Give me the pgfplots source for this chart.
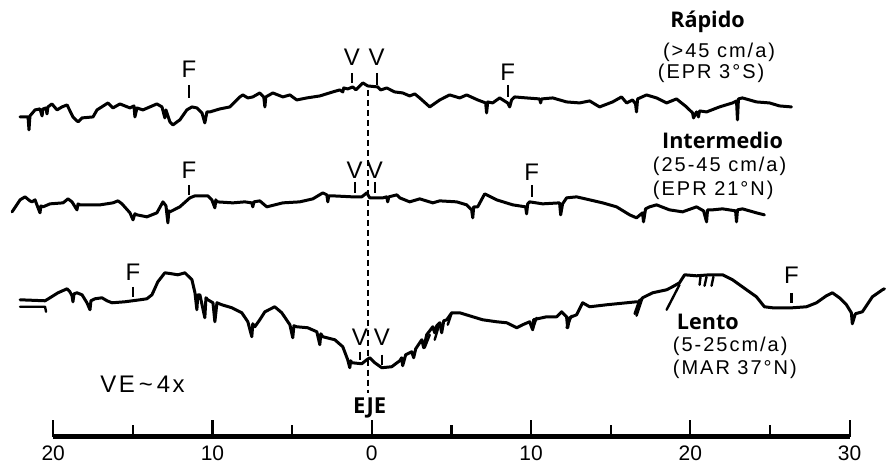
\documentclass[border=0pt]{standalone}
\usepackage{fontspec}
\setmainfont{Liberation Sans}
\newfontfamily\titlefont{Open Sans}
\newfontfamily\lblfont[LetterSpace=10]{Liberation Sans}
\usepackage{pgfplots}
\pgfplotsset{compat=1.18}
\tikzset{
  prof/.style={black, line width=1.5pt, line join=round, line cap=round, mark=none},
  lbl/.style={font=\fontsize{12}{13}\selectfont, inner sep=0pt},
  txt/.style={font=\lblfont\fontsize{10}{12}\selectfont, anchor=west, inner sep=0pt},
  tit/.style={font=\titlefont\bfseries\fontsize{10.8}{12}\selectfont, inner sep=0pt},
}

% distancias en km (20 ... 0 ... 30), relieve en unidades relativas (VE ~ 4x)
\pgfplotstableread{
x y
-22.08 320
-21.58 320
-21.52 307
-21.46 321
-21.14 327
-20.83 328
-20.70 321
-20.64 328
-20.45 329
-20.39 323
-20.33 330
-20.08 333
-19.76 327
-19.45 330
-19.13 332
-18.76 320
-18.44 315
-18.19 319
-17.50 320
-17.25 327
-16.56 334
-16.25 329
-15.81 333
-15.18 329
-14.93 331
-14.87 320
-14.74 329
-14.37 327
-13.49 333
-13.17 330
-12.99 319
-12.92 327
-12.67 315
-12.48 312
-12.23 315
-12.05 317
-11.61 327
-11.29 330
-10.98 329
-10.66 324
-10.48 314
-10.35 325
-10.16 325
-9.54 328
-8.91 330
-8.28 340
-8.09 342
-7.78 339
-7.47 340
-7.03 344
-6.78 340
-6.71 330
-6.65 340
-6.21 344
-5.58 340
-5.14 342
-4.71 337
-4.08 339
-3.26 341
-2.45 345
-2.01 347
-1.82 345
-1.76 349
-1.51 348
-1.19 350
-1.00 347
-0.56 354
-0.25 351
0.38 350
0.56 347
0.94 349
1.44 345
1.94 344
2.38 341
2.70 343
3.01 339
3.64 330
4.27 337
4.89 342
5.52 339
5.96 342
6.65 337
7.15 334
7.21 324
7.28 335
7.59 334
8.03 339
8.53 334
8.66 330
8.78 337
8.97 340
9.72 339
10.54 338
10.60 334
10.66 338
11.36 339
12.23 335
13.05 334
13.68 336
14.30 330
15.12 335
15.68 340
16.00 334
16.37 337
16.56 333
16.62 325
16.69 338
17.25 342
17.88 339
18.51 334
19.13 338
19.76 330
20.14 324
20.20 319
20.39 325
20.51 320
20.58 326
21.02 325
21.83 330
22.65 334
22.90 336
22.96 317
23.02 338
23.27 339
24.15 335
24.97 334
25.60 331
26.35 330
}\rapido

\pgfplotstableread{
x y
-22.58 225
-22.08 237
-21.77 240
-21.46 236
-21.33 235
-21.14 237
-20.95 229
-20.83 224
-20.77 231
-20.64 230
-20.20 233
-19.38 234
-19.07 238
-18.82 235
-18.51 227
-18.44 233
-18.32 232
-17.06 232
-16.25 234
-15.93 236
-15.68 233
-15.18 224
-14.99 217
-14.87 223
-14.74 222
-14.12 220
-13.49 224
-13.11 235
-12.92 231
-12.80 214
-12.74 226
-12.67 225
-12.05 230
-11.42 239
-11.10 241
-10.29 241
-10.04 237
-9.85 229
-9.79 237
-9.72 235
-8.72 234
-7.97 235
-7.53 234
-7.47 230
-7.40 235
-7.03 236
-6.59 230
-5.58 234
-4.52 235
-3.70 238
-3.07 244
-2.82 242
-2.76 235
-2.70 241
-2.45 241
-1.19 240
-0.63 240
-0.31 244
-0.13 239
0.69 239
0.94 240
1.00 235
1.07 240
1.57 242
1.76 239
2.38 235
3.01 238
3.83 234
4.27 236
5.33 235
5.96 232
6.27 227
6.34 219
6.40 230
6.65 230
7.09 243
7.84 237
8.85 232
9.66 230
9.72 223
9.79 233
9.91 235
10.73 233
11.79 234
11.86 222
11.98 233
12.23 239
12.86 240
13.68 237
14.49 234
15.37 230
16.19 222
16.62 219
17.00 224
17.06 215
17.19 228
17.44 230
17.88 232
18.69 227
19.51 225
20.39 230
20.83 226
21.02 215
21.08 227
21.39 227
22.02 228
22.84 226
22.90 215
22.96 227
23.27 228
24.15 224
24.65 222
}\intermedio

\pgfplotstableread{
x y
-22.08 137
-20.51 136
-20.20 139
-19.70 144
-19.13 148
-18.95 145
-18.82 141
-18.76 135
-18.69 143
-18.51 144
-18.19 142
-17.88 134
-17.69 127
-17.63 136
-17.38 138
-16.94 139
-16.62 136
-16.31 134
-15.50 135
-14.55 137
-14.12 138
-13.80 142
-13.43 155
-12.99 164
-12.55 163
-12.17 162
-11.73 164
-11.29 157
-11.10 144
-10.98 127
-10.92 142
-10.79 142
-10.48 119
-10.41 139
-10.29 137
-9.97 134
-9.85 115
-9.72 134
-9.41 132
-8.78 129
-8.16 124
-7.78 115
-7.53 100
-7.47 113
-7.34 110
-7.03 117
-6.71 125
-6.09 130
-5.65 124
-5.14 112
-4.96 99
-4.89 111
-4.71 110
-4.02 109
-3.45 105
-3.26 92
-3.20 103
-3.07 100
-2.32 97
-1.82 90
-1.51 77
-1.38 69
-1.32 76
-1.25 74
-0.63 73
-0.31 77
-0.13 79
0.19 74
0.63 69
1.25 70
1.76 76
1.88 79
1.94 71
2.13 82
2.51 85
2.63 79
2.76 88
3.14 97
3.26 89
3.45 102
3.83 110
3.95 104
4.08 111
4.27 114
4.39 104
4.52 116
4.71 117
5.02 124
5.52 124
6.34 120
6.96 117
7.84 115
8.47 114
9.10 109
9.47 112
9.91 115
10.10 107
10.16 117
10.41 118
10.98 120
11.61 120
11.92 125
12.23 120
12.30 109
12.42 119
12.55 120
12.86 122
13.24 134
13.68 130
14.74 132
16.00 134
16.62 135
16.81 135
17.00 139
17.63 144
18.51 147
18.88 150
19.32 154
19.64 162
20.39 161
21.20 162
22.02 162
22.65 157
23.53 147
24.15 140
24.65 130
25.16 129
25.78 129
26.41 129
27.29 130
27.92 134
28.54 141
28.92 144
29.36 139
29.80 132
30.11 124
30.17 113
30.36 123
30.80 125
31.43 140
32.06 147
32.19 148
}\lento

\begin{document}
\begin{tikzpicture}
\begin{axis}[
  scale only axis, width=398.5pt, height=218.5pt,
  xmin=-20, xmax=30, ymin=0, ymax=437,
  axis x line*=bottom, axis y line=none,
  clip=false,
  xtick={-20,-10,0,10,20,30},
  xticklabels={\mbox{20},\mbox{10},\mbox{0},\mbox{10},\mbox{20},\mbox{30}},
  minor xtick={-15,-5,5,15,25},
  tick align=inside,
  major tick length=8.5pt, minor tick length=6pt,
  tick style={black, line width=1.1pt},
  x axis line style={line width=2.6pt},
  xticklabel style={font=\fontsize{10.5}{12}\selectfont, yshift=-1pt},
  unbounded coords=jump,
]
\addplot[prof] table {\rapido};
\addplot[prof] table {\intermedio};
\addplot[prof] table {\lento};
% escarpes y trazo doble del perfil lento
\addplot[prof, line width=1.2pt] coordinates {
  (-22.08,130) (-20.51,130) (-20.45,125) (nan,nan)
  (19.32,152) (18.51,127) (nan,nan)
  (17.00,139) (16.62,121) (nan,nan)
  (16.81,137) (16.50,123) (nan,nan)
  (20.64,160) (20.58,152) (nan,nan)
  (21.02,160) (20.89,151) (nan,nan)
  (21.45,160) (21.33,151) (nan,nan)
  (3.64,102) (3.32,89) (nan,nan)
  (4.27,114) (3.95,97) (nan,nan)
  (5.02,124) (4.77,112) (nan,nan)
  (10.35,119) (10.10,107) (nan,nan)
  (12.55,121) (12.23,109)
};
% marcas F y V
\addplot[black, line width=1.1pt] coordinates {
  (-11.48,352) (-11.48,339) (nan,nan)
  (-1.25,364) (-1.25,354) (nan,nan)
  (0.31,364) (0.31,352) (nan,nan)
  (8.53,352) (8.53,340) (nan,nan)
  (-11.48,252) (-11.48,242) (nan,nan)
  (-1.07,255) (-1.07,244) (nan,nan)
  (0.19,255) (0.19,244) (nan,nan)
  (10.04,252) (10.04,240) (nan,nan)
  (-14.99,150) (-14.99,140) (nan,nan)
  (-0.75,85) (-0.75,77) (nan,nan)
  (0.63,82) (0.63,72) (nan,nan)
  (26.35,144) (26.35,134)
};
% eje de la dorsal
\addplot[black, line width=0.8pt, dash pattern=on 3pt off 2pt] coordinates {(-0.25,347) (-0.25,44)};

\node[lbl] at (axis cs:-11.48,368) {F};
\node[lbl] at (axis cs:-1.25,380) {V};
\node[lbl] at (axis cs:0.31,380) {V};
\node[lbl] at (axis cs:8.53,365) {F};
\node[lbl] at (axis cs:-11.48,267) {F};
\node[lbl] at (axis cs:-1.07,267) {V};
\node[lbl] at (axis cs:0.19,267) {V};
\node[lbl] at (axis cs:10.04,265) {F};
\node[lbl] at (axis cs:-14.99,165) {F};
\node[lbl] at (axis cs:-0.75,100) {V};
\node[lbl] at (axis cs:0.63,100) {V};
\node[lbl] at (axis cs:26.35,162) {F};

\node[tit] at (axis cs:21.08,415) {Rápido};
\node[txt] at (axis cs:18.26,385) {(>45 cm/a)};
\node[txt] at (axis cs:17.94,364) {(EPR 3°S)};
\node[tit] at (axis cs:22.02,296) {Intermedio};
\node[txt] at (axis cs:17.63,271) {(25-45 cm/a)};
\node[txt] at (axis cs:17.63,247) {(EPR 21°N)};
\node[tit, anchor=west] at (axis cs:19.13,115) {Lento};
\node[txt] at (axis cs:18.88,90) {(5-25cm/a)};
\node[txt] at (axis cs:18.88,67) {(MAR 37°N)};
\node[txt, font=\lblfont\fontsize{12}{14}\selectfont] at (axis cs:-17.06,52) {VE\,\textasciitilde\,4x};
\node[tit, font=\titlefont\bfseries\fontsize{11}{12}\selectfont] at (axis cs:-0.13,29) {EJE};

\path (axis cs:-23.34,-29) rectangle (axis cs:32.25,437);
\end{axis}
\end{tikzpicture}
\end{document}
